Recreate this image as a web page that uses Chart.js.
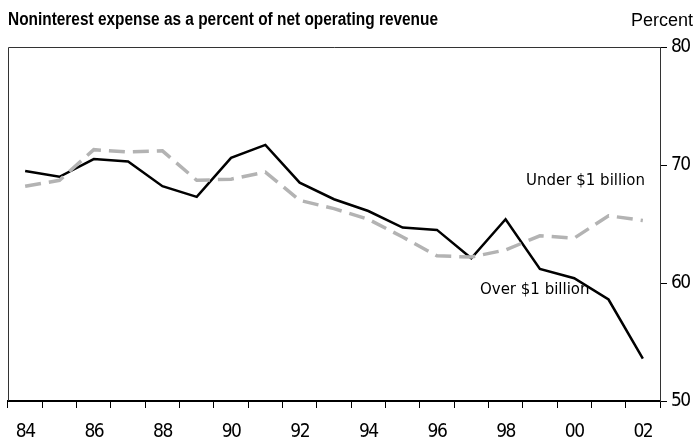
<!DOCTYPE html>
<html>
<head>
<meta charset="utf-8">
<script src="https://cdn.jsdelivr.net/npm/chart.js@4/dist/chart.umd.min.js"></script>
<style>
  html, body { margin: 0; padding: 0; background: #fff; }
  #wrap { width: 696px; height: 445px; }
</style>
</head>
<body>
<div id="wrap"><canvas id="grafico"></canvas></div>
<script>
// years and ratios (percent)
const years = ['84','85','86','87','88','89','90','91','92','93','94','95','96','97','98','99','00','01','02'];
const overBillion  = [69.5, 69.0, 70.5, 70.3, 68.2, 67.3, 70.6, 71.7, 68.5, 67.1, 66.1, 64.7, 64.5, 62.1, 65.4, 61.2, 60.4, 58.6, 53.6];
const underBillion = [68.2, 68.7, 71.3, 71.1, 71.2, 68.7, 68.8, 69.4, 67.0, 66.3, 65.4, 63.9, 62.3, 62.2, 62.8, 64.0, 63.8, 65.7, 65.3];
const yTicks = [50, 60, 70, 80];

const tickFont = { family: 'DejaVu Sans Condensed', size: 19 };

// marco, títulos y etiquetas de series
const extras = {
  id: 'extras',
  beforeDraw(chart) {
    // números de los ejes más apretados
    chart.ctx.letterSpacing = '-1.5px';
  },
  beforeDatasetsDraw(chart) {
    const { ctx, chartArea: a } = chart;
    ctx.letterSpacing = '0px';
    ctx.save();
    ctx.strokeStyle = '#333';
    ctx.lineWidth = 1;
    ctx.beginPath();
    ctx.moveTo(a.left + 0.5, a.bottom);
    ctx.lineTo(a.left + 0.5, a.top + 0.5);
    ctx.lineTo(a.right, a.top + 0.5);
    ctx.stroke();
    ctx.restore();
  },
  afterDraw(chart) {
    const { ctx } = chart;
    const x = chart.scales.x, y = chart.scales.y;
    ctx.save();
    ctx.fillStyle = '#000';
    ctx.textBaseline = 'alphabetic';
    ctx.textAlign = 'left';

    // título en negrita, comprimido a lo ancho
    const titulo = 'Noninterest expense as a percent of net operating revenue';
    ctx.font = 'bold 18px "Liberation Sans", Arial, sans-serif';
    const w = ctx.measureText(titulo).width;
    ctx.save();
    ctx.translate(8, 25);
    ctx.scale(430 / w, 1);
    ctx.fillText(titulo, 0, 0);
    ctx.restore();

    ctx.font = '18px "Liberation Sans", Arial, sans-serif';
    ctx.textAlign = 'right';
    ctx.fillText('Percent', 693, 26);

    ctx.font = '15px "DejaVu Sans", Verdana, sans-serif';
    ctx.textAlign = 'center';
    ctx.textBaseline = 'middle';
    ctx.fillText('Under $1 billion', x.getPixelForValue(16.33), y.getPixelForValue(68.6));
    ctx.fillText('Over $1 billion', x.getPixelForValue(14.85), y.getPixelForValue(59.4));
    ctx.restore();
  }
};

new Chart(document.getElementById('grafico'), {
  type: 'line',
  data: {
    labels: years,
    datasets: [
      {
        label: 'Under $1 billion',
        data: underBillion,
        borderColor: '#b3b3b3',
        borderWidth: 3.5,
        borderDash: [16, 8],
        pointRadius: 0,
        tension: 0,
        fill: false
      },
      {
        label: 'Over $1 billion',
        data: overBillion,
        borderColor: '#000',
        borderWidth: 2.5,
        pointRadius: 0,
        tension: 0,
        fill: false
      }
    ]
  },
  options: {
    responsive: true,
    maintainAspectRatio: false,
    animation: false,
    layout: { padding: { left: 8, top: 47, right: 0, bottom: 0 } },
    plugins: {
      legend: { display: false },
      tooltip: { enabled: false }
    },
    scales: {
      x: {
        type: 'category',
        offset: true,
        grid: {
          display: true,
          offset: true,
          drawOnChartArea: false,
          drawTicks: true,
          tickLength: 7,
          color: '#000'
        },
        border: { display: true, color: '#000', width: 2 },
        ticks: {
          autoSkip: false,
          color: '#000',
          font: tickFont,
          padding: 13,
          maxRotation: 0,
          callback: function(val, i) {
            return i % 2 === 0 ? years[i] : '';
          }
        },
        afterFit(scale) { scale.height = 44; }
      },
      y: {
        position: 'right',
        min: 50,
        max: 80,
        afterBuildTicks(scale) {
          scale.ticks = yTicks.map(v => ({ value: v }));
        },
        grid: {
          drawOnChartArea: false,
          drawTicks: true,
          tickLength: 7,
          color: '#000'
        },
        border: { display: true, color: '#333', width: 1 },
        ticks: {
          color: '#000',
          font: tickFont,
          padding: 4
        },
        afterFit(scale) { scale.width = 36; }
      }
    }
  },
  plugins: [extras]
});
</script>
</body>
</html>
